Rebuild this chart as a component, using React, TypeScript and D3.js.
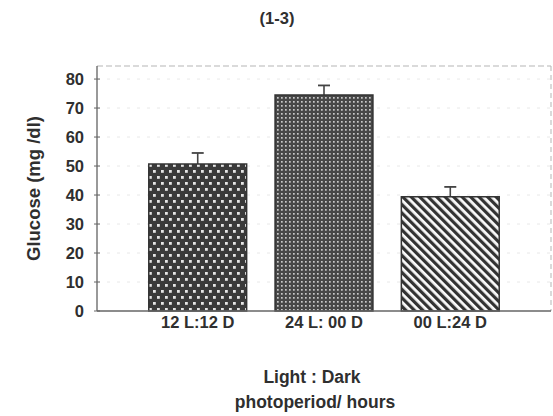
import React from "react";
import * as d3 from "d3";

// Glucose by light:dark photoperiod
const categories = ["12 L:12 D", "24 L: 00 D", "00 L:24 D"];
const glucose = [50.7, 74.5, 39.4];
const glucoseErr = [3.8, 3.3, 3.4];
const yTicks = [0, 10, 20, 30, 40, 50, 60, 70, 80];
const patternIds = ["dotsCoarse", "dotsFine", "diagStripes"];

const W = 553;
const H = 416;
const plot = { left: 97, right: 551, top: 66, bottom: 311 };
const FONT = "'Liberation Sans', Arial, sans-serif";
const INK = "#2f2f2f";

export default function App() {
  const x = d3
    .scaleBand<string>()
    .domain(categories)
    .range([plot.left, plot.right])
    .paddingInner(0.225)
    .paddingOuter(0.41);

  const y = d3
    .scaleLinear()
    .domain([0, 84.5])
    .range([plot.bottom, plot.top]);

  return (
    <svg
      width={W}
      height={H}
      viewBox={`0 0 ${W} ${H}`}
      style={{ position: "absolute", left: 0, top: 0, background: "#fff" }}
    >
      <defs>
        <pattern id="dotsCoarse" width={8} height={12} patternUnits="userSpaceOnUse">
          <rect width={8} height={12} fill="#3a3a3a" />
          <rect x={1} y={2} width={2.8} height={2.8} fill="#e6e6e6" />
          <rect x={5} y={8} width={2.8} height={2.8} fill="#e6e6e6" />
        </pattern>
        <pattern id="dotsFine" width={4} height={4} patternUnits="userSpaceOnUse">
          <rect width={4} height={4} fill="#474747" />
          <rect x={1} y={1} width={1.7} height={1.7} fill="#c9c9c9" />
        </pattern>
        <pattern
          id="diagStripes"
          width={6}
          height={6}
          patternUnits="userSpaceOnUse"
          patternTransform="rotate(-45)"
        >
          <rect width={6} height={6} fill="#fafafa" />
          <rect x={0} y={0} width={3.2} height={6} fill="#333" />
        </pattern>
      </defs>

      {/* title */}
      <text
        x={277}
        y={24}
        textAnchor="middle"
        fontFamily={FONT}
        fontWeight="bold"
        fontSize={16.5}
        fill={INK}
      >
        (1-3)
      </text>

      {/* faint gridlines */}
      {yTicks.slice(1).map((t) => (
        <line
          key={`g${t}`}
          x1={plot.left}
          x2={plot.right}
          y1={y(t)}
          y2={y(t)}
          stroke="#e2e2e2"
          strokeWidth={0.8}
          strokeDasharray="3 7"
        />
      ))}

      {/* frame: dashed top and right */}
      <line
        x1={plot.left}
        x2={plot.right}
        y1={plot.top}
        y2={plot.top}
        stroke="#b5b5b5"
        strokeWidth={1}
        strokeDasharray="6 3"
      />
      <line
        x1={plot.right}
        x2={plot.right}
        y1={plot.top}
        y2={plot.bottom}
        stroke="#b5b5b5"
        strokeWidth={1}
        strokeDasharray="5 4"
      />

      {/* bars */}
      {categories.map((c, i) => {
        const x0 = x(c) as number;
        const bw = x.bandwidth();
        const cx = x0 + bw / 2;
        const top = y(glucose[i]);
        const errTop = y(glucose[i] + glucoseErr[i]);
        return (
          <g key={c}>
            <line x1={cx} x2={cx} y1={top} y2={errTop} stroke="#444" strokeWidth={1.6} />
            <line x1={cx - 6} x2={cx + 6} y1={errTop} y2={errTop} stroke="#444" strokeWidth={1.8} />
            <rect
              x={x0}
              y={top}
              width={bw}
              height={plot.bottom - top}
              fill={`url(#${patternIds[i]})`}
              stroke="#333"
              strokeWidth={1.5}
            />
          </g>
        );
      })}

      {/* y axis */}
      <line x1={plot.left} x2={plot.left} y1={plot.top} y2={plot.bottom} stroke="#555" strokeWidth={1.2} />
      {yTicks.map((t) => (
        <g key={`t${t}`}>
          <line x1={plot.left - 3} x2={plot.left + 3} y1={y(t)} y2={y(t)} stroke="#666" strokeWidth={1} />
          <text
            x={84}
            y={y(t)}
            dy="0.36em"
            textAnchor="end"
            fontFamily={FONT}
            fontWeight="bold"
            fontSize={16.5}
            fill={INK}
          >
            {t}
          </text>
        </g>
      ))}

      {/* x axis */}
      <line x1={plot.left} x2={plot.right} y1={plot.bottom} y2={plot.bottom} stroke="#666" strokeWidth={1.3} />
      {categories.map((c) => (
        <text
          key={`l${c}`}
          x={(x(c) as number) + x.bandwidth() / 2}
          y={328}
          textAnchor="middle"
          fontFamily={FONT}
          fontWeight="bold"
          fontSize={16.5}
          fill={INK}
        >
          {c}
        </text>
      ))}

      {/* axis titles */}
      <text
        transform={`translate(40, ${(plot.top + plot.bottom) / 2}) rotate(-90)`}
        textAnchor="middle"
        fontFamily={FONT}
        fontWeight="bold"
        fontSize={18.5}
        fill={INK}
      >
        Glucose (mg /dl)
      </text>
      <text
        x={312}
        y={383}
        textAnchor="middle"
        fontFamily={FONT}
        fontWeight="bold"
        fontSize={17.5}
        fill={INK}
      >
        Light : Dark
      </text>
      <text
        x={315}
        y={408}
        textAnchor="middle"
        fontFamily={FONT}
        fontWeight="bold"
        fontSize={17.5}
        fill={INK}
      >
        photoperiod/ hours
      </text>
    </svg>
  );
}
